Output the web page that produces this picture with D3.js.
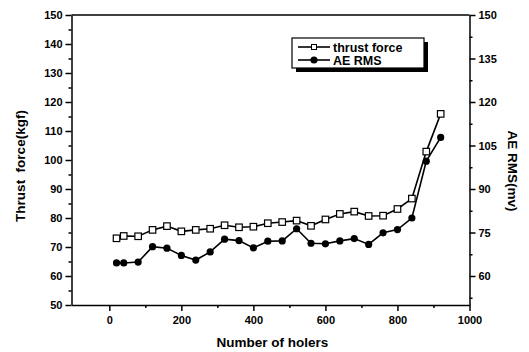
<!DOCTYPE html>
<html lang="en">
<head>
<meta charset="utf-8">
<title>Thrust force and AE RMS</title>
<style>
    html, body {
        margin: 0;
        padding: 0;
        background: #fff;
    }
    svg {
        display: block;
        font-family: "Liberation Sans", Arial, sans-serif;
        font-weight: bold;
    }
    .axis text {
        font-size: 11px;
        font-weight: bold;
        fill: #000;
    }
    .axis path, .axis line {
        stroke: #000;
        stroke-width: 1.5;
    }
    .title {
        font-size: 13.5px;
        fill: #000;
    }
</style>
</head>
<body>
<div id="chart"></div>
<script src="https://d3js.org/d3.v7.min.js"></script>
<script>
// data
var holes = [20, 40, 80, 120, 160, 200, 240, 280, 320, 360, 400, 440, 480, 520,
             560, 600, 640, 680, 720, 760, 800, 840, 880, 920];
var thrust = [73.0, 73.8, 73.7, 75.9, 77.2, 75.4, 75.9, 76.3, 77.5, 76.8, 77.0, 78.2, 78.6, 79.1,
              77.3, 79.5, 81.4, 82.2, 80.7, 80.8, 83.1, 86.7, 102.9, 115.9];
var aeRms = [64.5, 64.5, 64.8, 70.1, 69.6, 67.1, 65.5, 68.3, 72.7, 72.2, 69.7, 72.0, 72.1, 76.3,
             71.3, 71.1, 72.1, 72.9, 70.9, 74.9, 76.0, 80.0, 99.6, 107.8];

var xTicks = [0, 200, 400, 600, 800, 1000];
var xMinor = [100, 300, 500, 700, 900];
var leftTicks = [50, 60, 70, 80, 90, 100, 110, 120, 130, 140, 150];
var leftMinor = [55, 65, 75, 85, 95, 105, 115, 125, 135, 145];
var rightTicks = [60, 75, 90, 105, 120, 135, 150];
var rightMinor = [52.5, 67.5, 82.5, 97.5, 112.5, 127.5, 142.5];
var seriesNames = ["thrust force", "AE RMS"];

var W = 529, H = 352;
var plot = {left: 71.5, right: 469.5, top: 15, bottom: 305};

var svg = d3.select("#chart").append("svg")
    .attr("width", W).attr("height", H);

var x = d3.scaleLinear().domain([-105, 1000]).range([plot.left, plot.right]);
var yL = d3.scaleLinear().domain([50, 150]).range([plot.bottom, plot.top]);
var yR = d3.scaleLinear().domain([50, 150]).range([plot.bottom, plot.top]);

// axes
svg.append("g").attr("class", "axis")
    .attr("transform", "translate(0," + plot.bottom + ")")
    .call(d3.axisBottom(x).tickValues(xTicks).tickFormat(d3.format("d"))
        .tickSize(6).tickSizeOuter(0).tickPadding(5));
svg.append("g").attr("class", "axis")
    .attr("transform", "translate(0," + plot.bottom + ")")
    .call(d3.axisBottom(x).tickValues(xMinor).tickSize(3).tickFormat("").tickSizeOuter(0))
    .select(".domain").remove();

svg.append("g").attr("class", "axis")
    .attr("transform", "translate(" + plot.left + ",0)")
    .call(d3.axisLeft(yL).tickValues(leftTicks).tickSize(6).tickSizeOuter(0).tickPadding(3));
svg.append("g").attr("class", "axis")
    .attr("transform", "translate(" + plot.left + ",0)")
    .call(d3.axisLeft(yL).tickValues(leftMinor).tickSize(3).tickFormat("").tickSizeOuter(0))
    .select(".domain").remove();

svg.append("g").attr("class", "axis")
    .attr("transform", "translate(" + plot.right + ",0)")
    .call(d3.axisRight(yR).tickValues(rightTicks).tickSize(6).tickSizeOuter(0).tickPadding(3));
svg.append("g").attr("class", "axis")
    .attr("transform", "translate(" + plot.right + ",0)")
    .call(d3.axisRight(yR).tickValues(rightMinor).tickSize(3).tickFormat("").tickSizeOuter(0))
    .select(".domain").remove();

// top frame line
svg.append("line")
    .attr("x1", plot.left).attr("x2", plot.right)
    .attr("y1", plot.top).attr("y2", plot.top)
    .attr("stroke", "#000").attr("stroke-width", 1.5);

// titles
svg.append("text").attr("class", "title")
    .attr("x", (plot.left + plot.right) / 2 + 2).attr("y", 347)
    .attr("text-anchor", "middle")
    .text("Number of holers");
svg.append("text").attr("class", "title")
    .attr("transform", "translate(25,166) rotate(-90)")
    .attr("text-anchor", "middle")
    .attr("xml:space", "preserve")
    .style("white-space", "pre")
    .text("Thrust  force(kgf)");
svg.append("text").attr("class", "title")
    .attr("transform", "translate(508,171) rotate(90)")
    .attr("text-anchor", "middle")
    .text("AE RMS(mv)");

// lines
var pts1 = holes.map(function(h, i) { return [x(h), yL(thrust[i])]; });
var pts2 = holes.map(function(h, i) { return [x(h), yR(aeRms[i])]; });
var line = d3.line();

svg.append("path").attr("d", line(pts2))
    .attr("fill", "none").attr("stroke", "#000").attr("stroke-width", 1.6);
svg.append("path").attr("d", line(pts1))
    .attr("fill", "none").attr("stroke", "#000").attr("stroke-width", 1.6);

svg.selectAll("circle.ae").data(pts2).enter().append("circle")
    .attr("class", "ae")
    .attr("cx", function(d) { return d[0]; })
    .attr("cy", function(d) { return d[1]; })
    .attr("r", 3.6)
    .attr("fill", "#000");

var sq = 6.5;
svg.selectAll("rect.tf").data(pts1).enter().append("rect")
    .attr("class", "tf")
    .attr("x", function(d) { return d[0] - sq / 2; })
    .attr("y", function(d) { return d[1] - sq / 2; })
    .attr("width", sq).attr("height", sq)
    .attr("fill", "#fff").attr("stroke", "#000").attr("stroke-width", 1.2);

// legend with drop shadow
var lg = {x: 292, y: 38, w: 132, h: 30};
svg.append("rect")
    .attr("x", lg.x + 4).attr("y", lg.y + 4)
    .attr("width", lg.w).attr("height", lg.h)
    .attr("fill", "#000");
svg.append("rect")
    .attr("x", lg.x).attr("y", lg.y)
    .attr("width", lg.w).attr("height", lg.h)
    .attr("fill", "#fff").attr("stroke", "#000").attr("stroke-width", 1.2);

seriesNames.forEach(function(name, i) {
    var cy = lg.y + 9 + i * 13;
    svg.append("line")
        .attr("x1", lg.x + 6).attr("x2", lg.x + 38)
        .attr("y1", cy).attr("y2", cy)
        .attr("stroke", "#000").attr("stroke-width", 1.6);
    if (i === 0) {
        svg.append("rect")
            .attr("x", lg.x + 22 - 2.5).attr("y", cy - 2.5)
            .attr("width", 5).attr("height", 5)
            .attr("fill", "#fff").attr("stroke", "#000").attr("stroke-width", 1);
    } else {
        svg.append("circle")
            .attr("cx", lg.x + 22).attr("cy", cy).attr("r", 3.6).attr("fill", "#000");
    }
    svg.append("text")
        .attr("x", lg.x + 41).attr("y", cy + 4.5)
        .attr("font-size", "12.5px")
        .attr("fill", "#000")
        .text(name);
});
</script>
</body>
</html>
